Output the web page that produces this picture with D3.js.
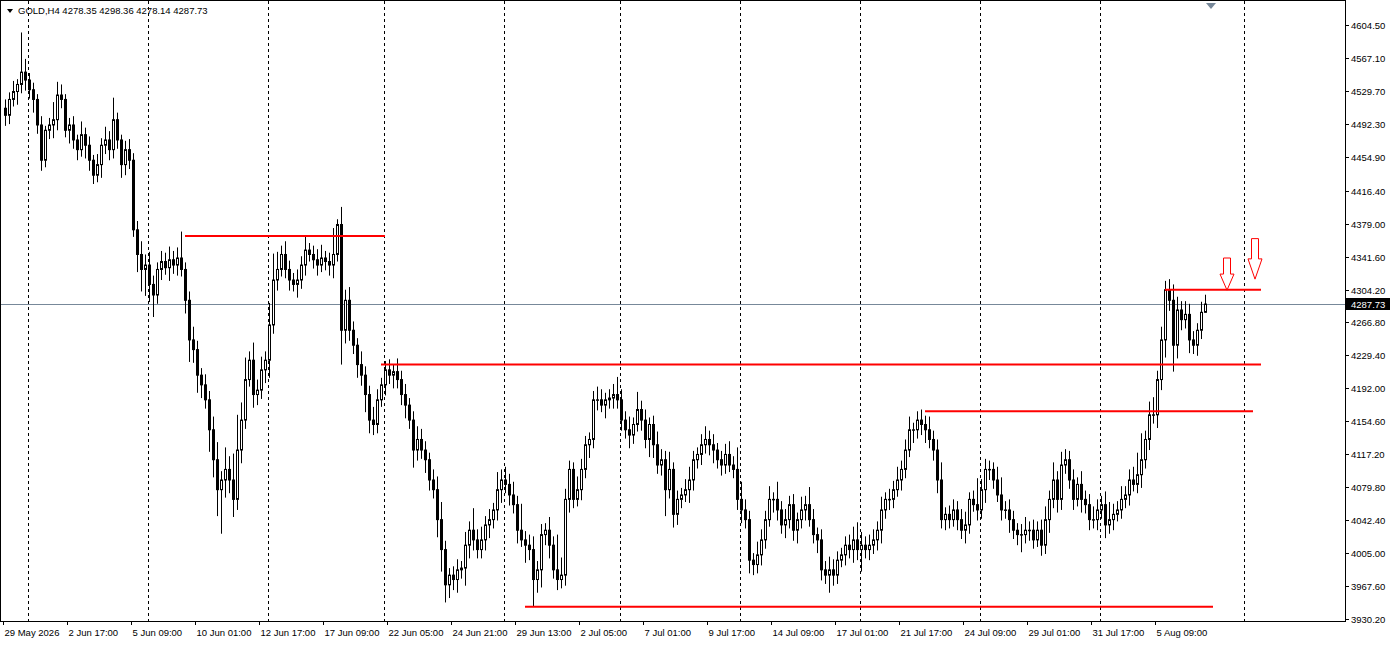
<!DOCTYPE html>
<html><head><meta charset="utf-8">
<script src="https://d3js.org/d3.v7.min.js"></script>
<style>body{margin:0;background:#fff}svg{display:block}text{font-family:"Liberation Sans",Arial,sans-serif;font-size:9.5px}</style>
</head><body><svg id="c" width="1394" height="645"></svg>
<script>
const closes=[4502,4520,4529,4537,4551,4542,4531,4520,4491,4451,4485,4491,4497,4525,
4520,4485,4491,4474,4463,4480,4468,4451,4434,4446,4468,4474,4463,4497,
4474,4446,4463,4451,4372,4344,4327,4332,4310,4298,4327,4336,4329,4338,
4332,4340,4327,4292,4247,4236,4207,4196,4179,4145,4111,4077,4088,4100,
4088,4066,4122,4156,4202,4224,4185,4190,4213,4224,4264,4315,4327,4344,
4327,4315,4310,4315,4332,4349,4344,4338,4332,4340,4336,4332,4344,4378,
4258,4292,4258,4241,4219,4207,4185,4156,4151,4179,4196,4213,4207,4211,
4202,4185,4173,4156,4122,4134,4122,4111,4088,4077,4043,4009,3969,3980,
3975,3986,3988,4014,4031,4020,4009,4020,4037,4043,4054,4077,4088,4083,
4071,4060,4031,4020,4014,4009,3975,3986,4026,4031,4014,3986,3975,3980,
4066,4100,4066,4077,4100,4128,4134,4179,4179,4173,4179,4181,4185,4179,
4156,4145,4139,4151,4168,4156,4134,4151,4128,4105,4111,4077,4100,4049,
4066,4071,4077,4088,4111,4117,4128,4134,4128,4122,4111,4105,4117,4105,
4100,4066,4054,4043,3997,3992,4003,4020,4043,4066,4066,4054,4037,4043,
4060,4031,4043,4054,4060,4043,4026,4020,3986,3980,3986,3980,3997,4003,
4014,4009,4020,4009,4014,4009,4014,4020,4031,4054,4066,4066,4077,4088,
4100,4122,4145,4145,4156,4151,4145,4134,4122,4088,4043,4049,4043,4054,
4043,4031,4037,4066,4060,4054,4077,4100,4100,4088,4071,4054,4054,4043,
4031,4026,4026,4031,4031,4020,4031,4014,4043,4066,4088,4066,4105,4111,
4088,4066,4083,4066,4060,4043,4043,4054,4060,4037,4043,4049,4054,4066,
4071,4088,4083,4094,4111,4134,4162,4162,4202,4247,4304,4292,4241,4281,
4270,4276,4247,4241,4258,4278.35,4287.73];
const firstOpen=4510;
const upWick=[10,8,12,6,45,15,8, 8,6,10,5,8,20,15, 12,6,8,10,6,15,8, 10,6,12,8,15,10,25,
8,6,10,12,8,10,15, 12,15,10,8,12,10,15, 10,12,30,8,10,15,10, 8,12,10,15,20,10,25,
15,30,40,20,25,10,20, 12,15,10,25,30,20,10, 15,10,8,12,10,15,8, 10,12,15,8,10,30,6,
20,12,15,10,8,15,10, 10,15,12,8,10,12,8, 15,10,12,8,10,15,12, 10,8,12,15,20,10,8,
10,12,8,15,10,25,12, 15,10,12,8,20,12,15, 12,15,10,30,10,12,15, 10,12,8,15,10,40,20,
12,10,8,15,12,10,8, 10,15,12,8,10,12,20, 12,10,15,8,20,10,12, 8,10,15,12,10,20,8,
10,8,12,15,10,8,12, 15,10,12,8,10,12,15, 10,25,20,12,10,8,15, 12,10,15,8,20,10,12,
10,12,8,15,10,20,12, 8,12,10,15,12,10,8, 10,12,15,20,15,10,12, 12,10,15,8,12,10,15,
10,12,15,8,10,12,10, 15,10,12,20,8,10,12, 10,12,15,8,10,30,12, 12,10,8,15,20,10,12,
10,8,12,15,10,12,10, 12,15,10,20,10,15,12, 10,12,8,15,10,12,15, 12,10,15,20,12,10,15,
10,12,15,25,30,10,15, 20,10,15,10,12,18,15, 10,15,12,10,8,12,10.6];
const dnWick=[12,10,8,15,10,12,10, 15,10,12,8,10,15,12, 10,8,15,10,12,8,15, 12,10,8,15,10,12,10,
10,15,12,10,8,20,25, 30,20,25,10,12,8,15, 10,12,8,15,25,15,20, 15,10,25,20,30,50,20,
15,20,12,15,10,8,15, 12,10,15,20,10,12,8, 10,12,8,15,10,12,8, 10,12,8,10,12,15,8,
39,15,12,10,15,12,20, 15,12,10,8,12,10,15, 10,12,15,10,20,12,10, 15,12,10,20,25,20,15,
12,15,10,20,15,12,10, 10,12,15,10,12,15,10, 12,10,15,8,20,12,31, 15,20,12,15,10,12,10,
12,15,10,8,12,10,15, 10,12,8,15,10,12,10, 12,10,15,10,8,12,10, 20,15,10,12,30,10,15,
12,10,8,15,12,10,12, 10,12,15,10,12,10,8, 10,12,15,10,15,12,10, 12,10,8,15,12,10,15,
10,12,15,10,12,8,10, 15,12,10,20,12,10,8, 12,10,15,12,25,10,12, 10,12,15,10,12,10,8,
12,10,8,15,10,12,15, 10,12,15,10,12,10,8, 12,10,15,10,8,12,10, 15,12,10,8,12,10,15,
10,12,20,10,12,10,8, 12,10,15,10,15,12,10, 10,12,8,15,10,12,10, 12,10,15,10,12,8,10,
10,12,8,10,15,10,12, 10,15,12,20,12,30,15, 12,10,15,10,12,10,0.2];
const priceTicks=["4604.50","4567.10","4529.70","4492.30","4454.90","4416.40","4379.00","4341.60","4304.20","4266.80","4229.40","4192.00","4154.60","4117.20","4079.80","4042.40","4005.00","3967.60","3930.20"];
const dateLabels=["29 May 2026","2 Jun 17:00","5 Jun 09:00","10 Jun 01:00","12 Jun 17:00","17 Jun 09:00","22 Jun 05:00","24 Jun 21:00","29 Jun 13:00","2 Jul 05:00","7 Jul 01:00","9 Jul 17:00","14 Jul 09:00","17 Jul 01:00","21 Jul 17:00","24 Jul 09:00","29 Jul 01:00","31 Jul 17:00","5 Aug 09:00"];
const dateIdx=[0,16,32,48,64,80,96,112,128,144,160,176,192,208,224,240,256,272,288];
const weekSeps=[6,36,66,95,125,154,184,214,244,274,310];
const levels=[[4365,45,95],[4219,94,314],[4166,230,312],[3944,130,302],[4304,290,314]];
const arrowIdx=[305.5,312.5];
const arrowTop=[4340,4362];
const arrowBot=[4303.5,4316];
const lastPrice=4287.73;
const title="GOLD,H4  4278.35 4298.36 4278.14 4287.73";

const svg=d3.select("#c");
const W=1345,H=621;
const x=d3.scaleLinear().domain([0,1]).range([5,9]);
const y=d3.scaleLinear().domain([3930.2,4604.5]).range([619,25]);
const data=closes.map((c,i)=>{const o=i?closes[i-1]:firstOpen;return {i,o,c,h:Math.max(o,c)+upWick[i],l:Math.min(o,c)-dnWick[i]};});

svg.append("rect").attr("x",0.5).attr("y",0.5).attr("width",W).attr("height",H).attr("fill","#fff").attr("stroke","#000");
svg.selectAll(".ws").data(weekSeps).join("line").attr("x1",d=>Math.round(x(d))-0.5).attr("x2",d=>Math.round(x(d))-0.5)
 .attr("y1",1).attr("y2",H).attr("stroke","#000").attr("stroke-dasharray","3,3");
svg.append("line").attr("x1",1).attr("x2",W).attr("y1",Math.round(y(lastPrice))+0.5).attr("y2",Math.round(y(lastPrice))+0.5).attr("stroke","#778899");
const g=svg.append("g");
g.selectAll(".wk").data(data).join("line").attr("x1",d=>Math.round(x(d.i))+0.5).attr("x2",d=>Math.round(x(d.i))+0.5)
 .attr("y1",d=>y(d.h)).attr("y2",d=>y(d.l)).attr("stroke","#000");
g.selectAll(".bd").data(data).join("rect").attr("x",d=>Math.round(x(d.i))-1+0.5).attr("width",2)
 .attr("y",d=>y(Math.max(d.o,d.c))).attr("height",d=>Math.max(0.5,Math.abs(y(d.o)-y(d.c))))
 .attr("fill",d=>d.c>=d.o?"#fff":"#000").attr("stroke","#000");
svg.selectAll(".lv").data(levels).join("line").attr("x1",d=>x(d[1])).attr("x2",d=>x(d[2]))
 .attr("y1",d=>y(d[0])).attr("y2",d=>y(d[0])).attr("stroke","#ff0000").attr("stroke-width",2);
arrowIdx.forEach((a,k)=>{const cx=x(a),t=y(arrowTop[k]),b=y(arrowBot[k]),hh=(b-t)*0.5;
 svg.append("path").attr("d",`M${cx-3.5},${t} L${cx+3.5},${t} L${cx+3.5},${b-hh} L${cx+7},${b-hh} L${cx},${b} L${cx-7},${b-hh} L${cx-3.5},${b-hh} Z`)
 .attr("fill","none").attr("stroke","#ff0000").attr("stroke-width",1);});
const ya=svg.append("g");
priceTicks.forEach(p=>{const yy=Math.round(y(+p))+0.5;
 ya.append("line").attr("x1",W).attr("x2",W+4).attr("y1",yy).attr("y2",yy).attr("stroke","#000");
 ya.append("text").attr("x",W+6).attr("y",yy+3.5).text(p);});
const ly=Math.round(y(lastPrice));
svg.append("rect").attr("x",W+1).attr("y",ly-6).attr("width",44).attr("height",12).attr("fill","#000");
svg.append("text").attr("x",W+6).attr("y",ly+3.5).attr("fill","#fff").text(lastPrice.toFixed(2));
dateIdx.forEach((d,k)=>{const xx=Math.round(x(d))-1.5;
 svg.append("line").attr("x1",xx).attr("x2",xx).attr("y1",H).attr("y2",H+4).attr("stroke","#000");
 svg.append("text").attr("x",xx+1).attr("y",636).text(dateLabels[k]);});
svg.append("path").attr("d","M7,9 L13,9 L10,13 Z").attr("fill","#000");
svg.append("text").attr("x",18).attr("y",14).text(title);
svg.append("path").attr("d","M1206,3 L1216,3 L1211,9 Z").attr("fill","#778899");
</script></body></html>
